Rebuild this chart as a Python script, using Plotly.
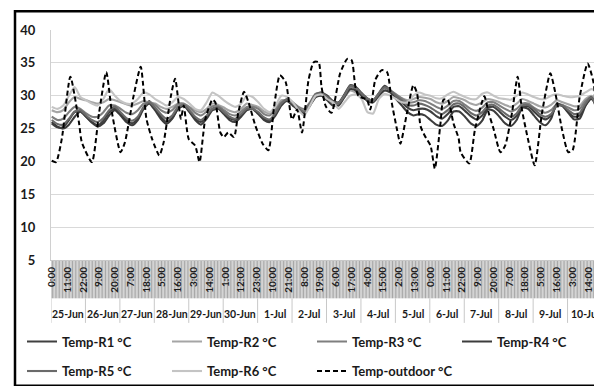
import plotly.graph_objects as go

# ---------------- data ----------------
dates = ["25-Jun", "26-Jun", "27-Jun", "28-Jun", "29-Jun", "30-Jun", "1-Jul", "2-Jul",
         "3-Jul", "4-Jul", "5-Jul", "6-Jul", "7-Jul", "8-Jul", "9-Jul", "10-Jul"]

time_tick_hours = [0, 11, 22, 33, 44, 55, 66, 77, 88, 99, 110, 121, 132, 143, 154, 165, 176, 187,
                   198, 209, 220, 231, 242, 253, 264, 275, 286, 297, 308, 319, 330, 341, 352, 363, 374]
time_tick_labels = ["0:00", "11:00", "22:00", "9:00", "20:00", "7:00", "18:00", "5:00", "16:00",
                    "3:00", "14:00", "1:00", "12:00", "23:00", "10:00", "21:00", "8:00", "19:00",
                    "6:00", "17:00", "4:00", "15:00", "2:00", "13:00", "0:00", "11:00", "22:00",
                    "9:00", "20:00", "7:00", "18:00", "5:00", "16:00", "3:00", "14:00"]

# indoor series, read every 4 hours (0,4,8,12,16,20 h of each day)
indoor_hours = list(range(0, 384, 4))

temp_r1 = [25.8, 25.2, 25.2, 26.3, 27.5, 27.6,
           26.8, 26.0, 25.5, 26.2, 27.5, 28.0,
           27.2, 26.3, 25.8, 26.5, 28.2, 29.2,
           28.0, 26.8, 26.0, 26.6, 28.0, 28.5,
           27.6, 26.5, 26.0, 26.8, 28.0, 28.2,
           27.4, 26.6, 26.3, 27.0, 28.0, 28.0,
           27.3, 26.5, 26.2, 27.2, 28.7, 29.5,
           28.8, 28.0, 27.5, 28.8, 30.2, 30.5,
           30.0, 29.2, 29.0, 30.2, 31.6, 31.3,
           30.4, 29.6, 29.3, 30.4, 31.5, 30.8,
           29.8, 29.0, 28.2, 27.8, 28.0, 28.0,
           27.6, 26.9, 26.5, 27.2, 28.3, 28.4,
           27.7, 26.9, 26.4, 27.0, 28.2, 28.3,
           27.6, 26.8, 26.3, 26.9, 28.3, 28.4,
           27.6, 26.8, 26.4, 27.0, 28.5, 28.5,
           27.5, 26.8, 27.0, 28.5, 29.5, 28.5]

temp_r2 = [27.8, 27.5, 27.8, 29.0, 29.8, 29.5,
           29.3, 29.0, 28.8, 29.0, 29.5, 29.3,
           29.0, 28.7, 28.5, 28.8, 29.2, 29.0,
           28.8, 28.3, 28.0, 28.3, 28.8, 28.7,
           28.3, 27.8, 27.5, 28.0, 28.8, 28.6,
           28.2, 27.7, 27.5, 28.0, 28.8, 28.6,
           28.3, 27.6, 27.3, 28.0, 29.3, 29.2,
           28.8, 28.2, 27.8, 28.8, 30.0, 30.0,
           29.6, 29.0, 28.8, 29.8, 30.8, 30.5,
           30.0, 29.3, 29.0, 30.0, 30.8, 30.5,
           30.0, 29.6, 29.3, 29.5, 29.8, 29.7,
           29.5, 29.0, 28.8, 29.2, 29.8, 29.6,
           29.3, 28.8, 28.6, 29.0, 29.5, 29.3,
           29.0, 28.6, 28.3, 28.8, 29.5, 29.2,
           28.8, 28.4, 28.2, 28.6, 29.3, 29.0,
           28.7, 28.4, 28.5, 29.5, 30.0, 29.0]

temp_r3 = [26.8, 26.3, 26.5, 27.5, 28.3, 28.0,
           27.3, 26.8, 26.8, 27.5, 28.5, 28.5,
           28.0, 27.4, 27.2, 27.8, 28.8, 29.0,
           28.6, 27.8, 27.4, 27.8, 28.7, 28.8,
           28.2, 27.4, 27.0, 27.6, 28.4, 28.4,
           27.8, 27.2, 27.0, 27.6, 28.3, 28.3,
           28.0, 27.2, 27.0, 27.8, 29.0, 29.4,
           29.0, 28.3, 28.0, 29.0, 30.3, 30.2,
           29.8, 29.0, 28.8, 30.0, 31.3, 31.0,
           30.2, 29.5, 29.3, 30.3, 31.2, 30.8,
           30.2, 29.6, 29.0, 29.0, 29.3, 29.2,
           28.8, 28.3, 28.0, 28.5, 29.2, 29.2,
           28.6, 28.0, 27.7, 28.2, 29.0, 29.0,
           28.5, 28.0, 27.6, 28.0, 28.8, 28.8,
           28.2, 27.7, 27.4, 27.8, 28.7, 28.6,
           28.2, 27.8, 28.0, 29.2, 29.8, 28.5]

temp_r4 = [26.0, 25.3, 25.0, 25.6, 26.8, 27.6,
           26.8, 25.9, 25.3, 25.8, 27.0, 27.8,
           27.0, 26.0, 25.5, 26.3, 28.0, 28.8,
           27.8, 26.5, 25.7, 26.5, 28.0, 28.5,
           27.5, 26.3, 25.6, 26.5, 27.8, 28.0,
           27.2, 26.3, 26.0, 26.8, 27.8, 28.0,
           27.2, 26.3, 26.0, 27.0, 28.5, 29.2,
           28.5, 27.8, 27.3, 28.5, 29.8, 30.0,
           29.3, 28.5, 28.5, 29.8, 31.0, 30.8,
           30.0, 29.2, 29.0, 30.0, 30.8, 30.5,
           29.5, 28.5, 27.5, 27.0, 27.2, 27.0,
           26.3, 25.6, 25.4, 26.2, 27.6, 27.6,
           26.8, 25.8, 25.4, 26.2, 27.9, 27.7,
           26.8, 25.8, 25.4, 26.3, 28.2, 28.0,
           27.0, 26.0, 25.5, 26.5, 28.8, 28.4,
           27.4, 26.4, 26.5, 28.5, 29.8, 27.8]

temp_r5 = [26.3, 25.7, 25.6, 26.5, 27.6, 27.8,
           27.0, 26.3, 26.0, 26.6, 27.8, 28.3,
           27.5, 26.6, 26.2, 26.8, 28.3, 29.0,
           28.2, 27.2, 26.5, 27.0, 28.3, 28.6,
           27.8, 26.8, 26.3, 27.0, 28.0, 28.2,
           27.5, 26.8, 26.5, 27.2, 28.0, 28.0,
           27.5, 26.7, 26.4, 27.4, 28.8, 29.4,
           28.8, 28.0, 27.6, 28.8, 30.2, 30.4,
           29.8, 29.0, 28.8, 30.0, 31.5, 31.2,
           30.3, 29.5, 29.2, 30.3, 31.3, 30.8,
           30.0, 29.3, 28.6, 28.5, 28.8, 28.6,
           28.2, 27.6, 27.2, 27.8, 28.7, 28.8,
           28.2, 27.4, 27.0, 27.5, 28.5, 28.6,
           28.0, 27.3, 26.8, 27.3, 28.5, 28.6,
           28.0, 27.2, 26.8, 27.2, 28.5, 28.5,
           27.8, 27.2, 27.4, 28.8, 29.8, 28.0]

temp_r6 = [28.3, 28.0, 28.5, 30.0, 31.3, 29.8,
           29.3, 28.8, 28.5, 29.5, 31.0, 30.0,
           29.2, 28.8, 28.8, 29.5, 30.5, 30.2,
           29.5, 29.0, 28.5, 29.0, 29.8, 29.5,
           28.8, 28.0, 27.8, 29.0, 30.5, 30.0,
           29.3, 28.7, 28.3, 28.8, 30.0, 29.8,
           29.0, 28.0, 27.5, 28.5, 30.0, 29.8,
           29.0, 27.8, 27.0, 28.5, 30.0, 30.2,
           29.5, 29.0, 28.0, 29.0, 30.0, 30.2,
           29.5, 27.5, 27.3, 29.5, 30.3, 30.0,
           29.5, 29.0, 29.0, 30.0, 30.5, 30.2,
           30.0, 29.6, 29.6, 30.2, 30.6, 30.2,
           29.8, 29.5, 29.5, 30.3, 30.5, 30.0,
           29.6, 29.5, 29.4, 30.0, 30.5, 30.2,
           29.8, 29.5, 29.5, 30.0, 30.2, 30.0,
           29.8, 29.8, 30.0, 30.5, 31.0, 30.8]

outdoor_hours = [0, 3, 7, 13, 19, 21, 28, 33, 38, 42, 48, 51, 57, 62, 66, 70, 75, 78, 83, 86,
                 90, 92, 95.5, 100, 103, 107, 112, 114, 117.5, 120, 123, 127, 130, 134, 137,
                 142, 147, 151, 155, 159, 163, 167.5, 171, 174.4, 179, 182.6, 186, 188, 191,
                 195, 201, 206, 209, 211.6, 214, 219.7, 222, 225.5, 230, 233.7, 237, 240.6,
                 243, 247.6, 252, 254.6, 257, 260, 264, 267, 271, 273, 276, 280, 283.6, 285,
                 291, 295, 301.5, 304.5, 308, 312.7, 316, 320.8, 324.7, 327.7, 332.4, 336.6,
                 341.7, 347.5, 351, 355.6, 360, 363, 368, 373.5, 377.7, 380, 381.5, 383]
outdoor_vals = [20.1, 19.9, 23.4, 32.9, 25.9, 22.9, 19.9, 27.4, 33.6, 27.4, 21.4, 22.9, 29.9,
                34.4, 26.5, 23.4, 20.9, 22.9, 29.9, 32.6, 26.5, 28.5, 23.4, 22.4, 19.9, 26.4,
                29.4, 29.0, 24.4, 23.7, 24.4, 23.7, 27.4, 30.6, 29.1, 25.4, 22.7, 21.7, 28.4,
                33.1, 32.1, 26.4, 27.9, 24.4, 32.4, 35.1, 35.1, 31.4, 28.4, 27.4, 33.4, 35.6,
                35.4, 31.4, 29.9, 29.4, 27.9, 32.4, 33.9, 33.6, 28.9, 24.9, 22.7, 27.4, 31.6,
                30.4, 25.4, 23.9, 22.4, 18.9, 25.9, 29.4, 29.4, 25.8, 23.5, 21.4, 19.7, 24.9,
                29.9, 27.4, 24.9, 21.4, 22.4, 27.4, 32.9, 27.9, 22.9, 19.4, 27.4, 33.4, 30.4,
                24.9, 21.4, 21.7, 29.9, 34.9, 31.9, 25.9, 25.4, 22.9]

series_names = ["Temp-R1 °C", "Temp-R2 °C", "Temp-R3 °C", "Temp-R4 °C", "Temp-R5 °C", "Temp-R6 °C"]
series_values = [temp_r1, temp_r2, temp_r3, temp_r4, temp_r5, temp_r6]
series_colors = ["#404040", "#a5a5a5", "#7f7f7f", "#3c3c3c", "#6a6a6a", "#c4c4c4"]
# legend rows: row 1 = R1..R3 (legend) + R4 (legend3); row 2 = R5, R6, outdoor (legend2)
series_legend = ["legend", "legend", "legend", "legend3", "legend2", "legend2"]

# ---------------- layout helpers ----------------
W, H = 602, 386
ML, MR, MT, MB = 43, 8, 22, 130
PW = W - ML - MR
PH = H - MT - MB
N_HOURS = 24 * len(dates)


def px_x(px):
    return (px - ML) / PW


def px_y(py):
    return (H - MB - py) / PH


FONT = "Lato"
TXT = "#1a1a1a"

fig = go.Figure()

for name, vals, col, lg in zip(series_names, series_values, series_colors, series_legend):
    fig.add_trace(go.Scatter(
        x=indoor_hours, y=vals, name=name, mode="lines",
        line=dict(color=col, width=2.1, shape="spline", smoothing=0.6),
        legend=lg,
    ))

fig.add_trace(go.Scatter(
    x=outdoor_hours, y=outdoor_vals, name="Temp-outdoor °C", mode="lines",
    line=dict(color="#000000", width=2, dash="5px,3px", shape="spline", smoothing=0.6),
    legend="legend2",
))

shapes = []
# dense category tick hatch under the time labels
path = ""
for k in range(N_HOURS + 1):
    path += f"M {k - 0.5} {px_y(256)} L {k - 0.5} {px_y(295)} "
shapes.append(dict(type="path", path=path, xref="x", yref="paper",
                   line=dict(color="#a8a8a8", width=1), layer="below"))
# day separators
for d in range(len(dates) + 1):
    shapes.append(dict(type="line", xref="x", yref="paper",
                       x0=24 * d - 0.5, x1=24 * d - 0.5, y0=px_y(295), y1=px_y(320),
                       line=dict(color="#c8c8c8", width=1), layer="below"))
# outer chart border
shapes.append(dict(type="rect", xref="paper", yref="paper",
                   x0=px_x(7), x1=px_x(600), y0=px_y(384), y1=px_y(3),
                   line=dict(color="#000000", width=2.5)))

annotations = []
for d, lab in enumerate(dates):
    annotations.append(dict(x=24 * d + 11.5, y=px_y(311), xref="x", yref="paper",
                            text=lab, showarrow=False, xanchor="center", yanchor="middle",
                            font=dict(family=FONT, size=10.5, color=TXT, weight="bold")))

LEG_FONT = dict(family=FONT, size=13, color=TXT, weight="bold")
LEG_X = 14
ITEM_W = 145


def leg(x_px, y_px):
    return dict(orientation="h", x=px_x(x_px), y=px_y(y_px), xanchor="left", yanchor="middle",
                entrywidth=ITEM_W - 45, entrywidthmode="pixels", bgcolor="rgba(0,0,0,0)",
                font=LEG_FONT, itemwidth=30)


fig.update_layout(
    width=W, height=H,
    margin=dict(l=ML, r=MR, t=MT, b=MB),
    paper_bgcolor="white", plot_bgcolor="white",
    showlegend=True,
    shapes=shapes,
    annotations=annotations,
    xaxis=dict(
        range=[-0.5, N_HOURS - 0.5],
        tickmode="array", tickvals=time_tick_hours, ticktext=time_tick_labels,
        tickangle=-90, ticks="", showgrid=False, zeroline=False,
        showline=True, linecolor="#c8c8c8", linewidth=1,
        tickfont=dict(family=FONT, size=10, color=TXT, weight="bold"),
        ticklabelstandoff=2,
    ),
    yaxis=dict(
        range=[5, 40], tickmode="array", tickvals=[5, 10, 15, 20, 25, 30, 35, 40],
        showgrid=True, gridcolor="#d9d9d9", gridwidth=1, zeroline=False,
        showline=True, linecolor="#d0d0d0", linewidth=1, ticks="",
        tickfont=dict(family=FONT, size=13, color=TXT, weight="bold"),
        ticklabelstandoff=12,
    ),
    legend=leg(LEG_X, 339),
    legend3=leg(LEG_X + 3 * ITEM_W, 339),
    legend2=leg(LEG_X, 369),
)

fig.write_html("out.html")
